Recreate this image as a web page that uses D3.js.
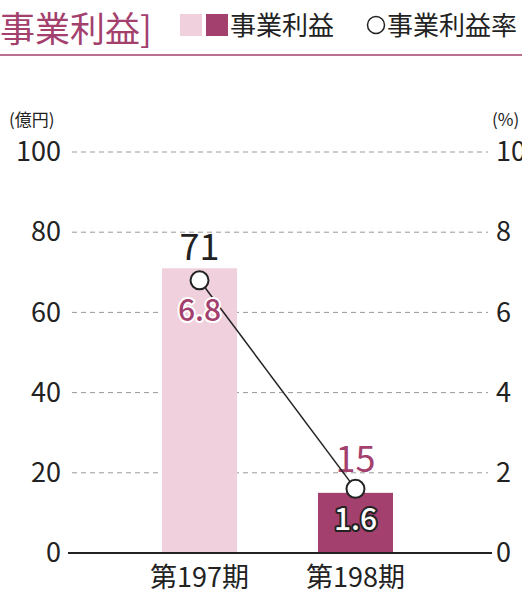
<!DOCTYPE html>
<html lang="ja">
<head>
<meta charset="UTF-8">
<title>事業利益</title>
<script src="https://d3js.org/d3.v7.min.js"></script>
<style>
    body { margin: 0; background: #fff; }
    svg { display: block; font-family: "Noto Sans CJK JP", "Noto Sans", sans-serif; }
</style>
</head>
<body>
<script>
    // data
    const categories = ['第197期', '第198期']
    const profit = [71, 15]          // 億円
    const profitRate = [6.8, 1.6]    // %
    const leftTicks = [0, 20, 40, 60, 80, 100]
    const rightTicks = [0, 2, 4, 6, 8, 10]

    const width = 522
    const height = 594
    const barColors = ['#efd0dc', '#a3406d']
    const accent = '#a3406d'

    const svg = d3.select('body').append('svg')
        .attr('width', width)
        .attr('height', height)

    // header
    svg.append('text')
        .text('事業利益]')
        .attr('x', 0)
        .attr('y', 42)
        .attr('font-size', 35)
        .attr('fill', accent)
    svg.append('rect').attr('x', 180).attr('y', 14).attr('width', 22).attr('height', 22).attr('fill', barColors[0])
    svg.append('rect').attr('x', 206).attr('y', 14).attr('width', 22).attr('height', 22).attr('fill', barColors[1])
    svg.append('text')
        .text('事業利益')
        .attr('x', 230)
        .attr('y', 35)
        .attr('font-size', 26)
        .attr('fill', '#222')
    svg.append('circle')
        .attr('cx', 376).attr('cy', 25).attr('r', 8.5)
        .attr('fill', '#fff').attr('stroke', '#222').attr('stroke-width', 1.5)
    svg.append('text')
        .text('事業利益率')
        .attr('x', 387)
        .attr('y', 35)
        .attr('font-size', 26)
        .attr('fill', '#222')
    svg.append('line')
        .attr('x1', 0).attr('x2', width)
        .attr('y1', 55).attr('y2', 55)
        .attr('stroke', accent).attr('stroke-width', 1.5)

    // scales
    const x = d3.scaleBand()
        .domain(categories)
        .range([43.5, 511.5])
        .paddingInner(0.519)
        .paddingOuter(0.76)
    const y = d3.scaleLinear().domain([0, 100]).range([553, 152])
    const y2 = d3.scaleLinear().domain([0, 10]).range([553, 152])

    // grid
    svg.selectAll('.grid')
        .data(leftTicks.filter(d => d > 0))
        .enter()
        .append('line')
        .attr('x1', 72).attr('x2', 488)
        .attr('y1', d => y(d)).attr('y2', d => y(d))
        .attr('stroke', '#999')
        .attr('stroke-width', 1)
        .attr('stroke-dasharray', '5,4')

    // axes (labels only)
    const leftAxis = svg.append('g')
        .attr('transform', 'translate(61,0)')
        .call(d3.axisLeft(y).tickValues(leftTicks).tickSize(0).tickPadding(0))
    leftAxis.select('.domain').remove()
    leftAxis.selectAll('text')
        .attr('font-size', 27)
        .attr('font-family', '"Noto Sans CJK JP", sans-serif')
        .attr('fill', '#222')

    const rightAxis = svg.append('g')
        .attr('transform', 'translate(496,0)')
        .call(d3.axisRight(y2).tickValues(rightTicks).tickSize(0).tickPadding(0))
    rightAxis.select('.domain').remove()
    rightAxis.selectAll('text')
        .attr('font-size', 27)
        .attr('font-family', '"Noto Sans CJK JP", sans-serif')
        .attr('fill', '#222')

    svg.append('text').text('(億円)')
        .attr('x', 9).attr('y', 126)
        .attr('font-size', 17).attr('fill', '#222')
    svg.append('text').text('(%)')
        .attr('x', 492).attr('y', 126)
        .attr('font-size', 17).attr('fill', '#222')

    // bars
    svg.selectAll('.bar')
        .data(profit)
        .enter()
        .append('rect')
        .attr('x', (d, i) => x(categories[i]))
        .attr('y', d => y(d))
        .attr('width', x.bandwidth())
        .attr('height', d => y(0) - y(d))
        .attr('fill', (d, i) => barColors[i])

    // baseline
    svg.append('line')
        .attr('x1', 68).attr('x2', 492)
        .attr('y1', y(0)).attr('y2', y(0))
        .attr('stroke', '#222').attr('stroke-width', 2)

    // category labels
    svg.selectAll('.cat')
        .data(categories)
        .enter()
        .append('text')
        .text(d => d)
        .attr('x', d => x(d) + x.bandwidth() / 2)
        .attr('y', 587)
        .attr('text-anchor', 'middle')
        .attr('font-size', 27)
        .attr('fill', '#222')

    // rate line
    const pts = profitRate.map((d, i) => [x(categories[i]) + x.bandwidth() / 2, y2(d)])

    // bar value labels (kept clear of the rate marker)
    svg.selectAll('.val')
        .data(profit)
        .enter()
        .append('text')
        .text(d => d)
        .attr('x', (d, i) => pts[i][0])
        .attr('y', (d, i) => Math.min(y(d), pts[i][1] - 9) - 8)
        .attr('text-anchor', 'middle')
        .attr('font-size', 36)
        .attr('fill', (d, i) => i === 0 ? '#222' : accent)

    svg.append('path')
        .attr('d', d3.line()(pts))
        .attr('fill', 'none')
        .attr('stroke', '#222')
        .attr('stroke-width', 1.5)
    svg.selectAll('.dot')
        .data(pts)
        .enter()
        .append('circle')
        .attr('cx', d => d[0]).attr('cy', d => d[1])
        .attr('r', 9)
        .attr('fill', '#fff')
        .attr('stroke', '#222')
        .attr('stroke-width', 2)

    // rate labels
    svg.selectAll('.rate')
        .data(profitRate)
        .enter()
        .append('text')
        .text(d => d.toFixed(1))
        .attr('x', (d, i) => pts[i][0])
        .attr('y', (d, i) => pts[i][1] + 41)
        .attr('text-anchor', 'middle')
        .attr('font-size', 30)
        .attr('font-weight', 500)
        .attr('paint-order', 'stroke')
        .attr('stroke', (d, i) => i === 0 ? '#fff' : '#222')
        .attr('stroke-width', 4)
        .attr('stroke-linejoin', 'round')
        .attr('fill', (d, i) => i === 0 ? accent : '#fff')
</script>
</body>
</html>
